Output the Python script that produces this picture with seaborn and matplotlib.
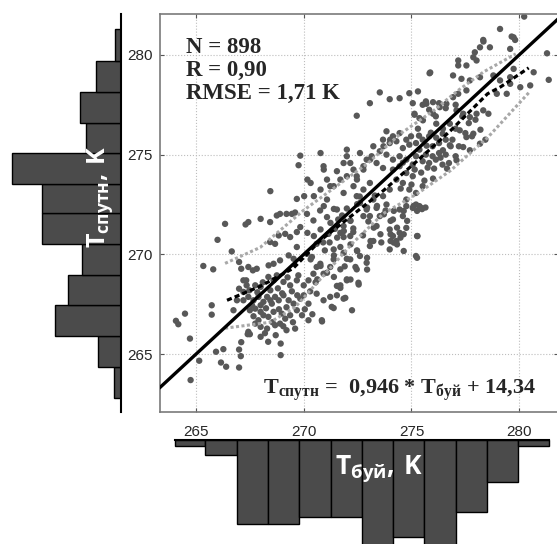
import numpy as np
import pandas as pd
import matplotlib
matplotlib.use("Agg")
import matplotlib.pyplot as plt
import seaborn as sns

# ---------------- data ----------------
sat_x = [
266.35,266.00,266.66,265.34,265.80,264.49,264.07,264.18,264.72,265.15,264.75,265.73,265.73,265.93,266.16,266.40,267.00,266.27,267.08,267.00,
267.10,267.40,267.50,268.00,268.35,268.93,268.93,267.30,267.43,268.00,268.44,268.75,268.90,269.20,269.45,269.60,268.44,268.67,268.84,269.14,
269.37,269.68,269.84,267.00,267.10,267.43,267.20,267.33,267.64,267.82,268.37,268.60,268.90,269.30,269.53,269.68,270.15,267.00,267.20,267.48,
267.75,268.00,268.36,268.60,268.75,269.06,269.37,269.68,270.00,270.22,270.45,270.60,270.92,271.23,271.40,271.70,272.00,267.20,267.43,267.67,
267.90,268.13,268.30,268.52,268.67,268.84,269.06,269.30,269.53,269.84,270.00,270.22,270.60,270.92,271.23,271.54,271.85,272.24,267.50,267.75,
268.00,268.13,268.36,268.60,268.98,269.14,269.37,269.68,269.92,270.22,270.84,271.30,267.75,268.00,268.30,268.67,268.90,269.20,269.60,267.43,
267.67,268.00,266.74,266.90,270.15,270.45,270.76,271.08,271.40,271.78,272.16,271.15,271.45,271.85,272.30,270.60,270.98,271.40,271.70,272.00,
272.40,272.47,270.38,270.77,
272.46,273.07,273.53,273.99,274.45,274.90,275.30,275.06,275.52,275.67,275.14,275.37,275.82,276.13,276.28,276.59,277.05,277.36,277.66,277.97,
277.50,277.81,278.20,278.43,277.20,277.05,273.84,274.14,274.45,273.68,273.99,274.30,274.60,274.76,274.98,275.21,275.52,275.82,275.98,276.28,
276.59,276.82,275.37,275.67,275.98,276.28,276.59,275.52,275.82,276.13,276.44,276.74,275.21,275.06,274.76,274.45,274.14,273.84,273.53,273.23,
273.15,273.38,273.68,274.14,274.45,274.76,275.06,274.30,274.60,274.90,275.21,275.52,275.37,275.06,274.76,273.99,273.68,273.84,272.00,272.00,
272.16,272.61,272.92,272.77,272.31,272.46,272.00,271.54,271.70,271.39,271.08,270.78,270.47,271.08,270.93,271.54,271.85,272.31,272.46,272.77,
273.07,272.61,272.92,273.07,272.77,273.23,273.38,273.53,273.38,273.99,274.14,274.45,274.30,274.76,275.28,274.60,274.14,274.76,274.45,275.21,
275.45,271.85,272.16,271.70,271.24,270.78,270.47,270.17,271.39,271.85,272.16,272.61,272.92,272.46,272.54,270.32,270.78,271.08,270.63,271.39,
271.70,272.00,271.54,273.99,275.21,273.07,273.23,270.78,270.93,270.32,270.02,270.17,
280.23,279.11,278.33,278.18,278.64,277.94,279.58,279.74,279.81,281.29,281.37,280.67,280.51,280.05,279.74,279.58,277.17,277.17,277.55,277.87,
278.02,275.84,276.93,277.32,277.71,278.18,278.80,279.11,275.69,276.00,276.31,276.62,275.14,275.53,276.00,276.93,277.17,277.55,277.09,277.40,
277.71,278.02,278.33,278.57,278.96,279.58,279.42,276.15,276.46,276.78,277.24,277.55,277.87,277.40,277.71,278.18,276.78,276.46,277.09,
275.87,269.84,269.76,268.45,269.68,279.65,278.34,270.92,271.85,272.77,273.08,273.70,274.01,271.23,272.47,
272.48,272.94,273.40,273.72,274.03,274.33,274.64,274.03,275.10,275.26,275.49,275.65,274.64,274.18,274.80,274.03,274.18,274.49,274.33,275.26,
275.26,274.64,272.48,272.94,272.94,272.55,272.17,271.70,271.93,271.39,270.85,273.56,273.25,273.10,272.17,271.86,271.55,272.17,
267.35,267.60,267.85,268.10,268.25,268.45,268.55,268.80,268.85,269.00,269.20,269.25,269.45,269.50,269.70,269.75,270.05,270.30,270.40,270.55,
267.90,268.20,268.70,269.05,268.45,
274.60,274.90,275.15,275.35,275.45,275.70,275.75,275.90,276.05,276.15,276.35,276.45,276.65,276.90,277.05,275.00,275.60,276.00,274.50,275.30,
271.60,272.00,272.30,272.60,272.75,273.00,273.30,273.60,271.20,271.90,270.90,273.80,
]
sat_y = [
271.53,270.73,270.15,269.42,269.25,267.03,266.67,266.50,265.78,264.67,263.70,267.45,266.98,265.12,264.58,264.37,264.33,265.25,264.90,265.23,
265.60,266.00,266.00,265.87,265.62,265.53,264.95,271.50,271.62,271.78,271.62,271.95,272.03,272.03,272.03,272.10,270.62,270.53,270.95,271.03,
270.87,271.12,271.37,269.62,269.28,269.37,268.70,268.70,269.20,269.28,269.45,269.53,269.70,269.95,269.78,270.37,270.03,268.28,268.12,268.20,
268.45,268.37,268.87,268.70,268.95,268.62,268.45,268.70,268.45,268.70,269.03,269.37,269.03,269.37,268.87,268.45,268.70,267.70,267.87,267.70,
267.87,267.62,267.87,267.53,267.87,267.70,267.95,267.70,267.53,267.78,267.95,267.53,268.03,267.70,267.87,267.95,267.78,267.20,267.20,267.28,
267.12,266.95,266.87,267.12,267.03,266.78,266.95,267.20,266.95,266.70,266.70,267.37,266.53,266.37,266.28,266.45,266.53,266.20,266.28,266.12,
266.90,267.45,267.20,267.70,272.03,271.70,272.20,271.87,272.28,271.95,271.70,271.03,271.28,270.87,271.12,270.53,270.20,269.95,270.37,269.78,
269.37,270.20,269.87,269.53,
276.95,277.58,278.12,277.78,277.83,278.08,278.17,277.58,277.50,277.67,277.00,276.83,277.25,276.92,277.58,277.33,277.50,276.92,276.58,276.75,
276.08,275.92,276.25,275.75,275.42,274.92,276.17,275.92,276.08,275.75,275.58,275.67,275.33,275.75,275.92,275.58,275.75,275.92,275.42,275.58,
275.75,275.42,275.25,275.00,274.92,275.08,275.00,274.67,274.58,274.75,274.50,274.58,274.92,274.50,274.75,274.92,274.75,275.00,275.17,275.42,
274.92,274.58,274.33,274.25,274.42,274.08,273.92,273.75,273.58,273.25,273.08,273.42,272.42,272.33,272.75,273.25,272.92,272.50,275.25,274.92,
274.58,275.08,274.75,274.25,274.25,273.92,273.92,274.17,273.75,273.42,273.75,273.25,272.92,272.75,272.42,272.25,273.08,273.42,272.92,273.25,
273.58,272.58,272.25,271.92,271.92,272.75,272.33,271.92,271.42,271.25,270.92,271.08,270.67,271.33,270.92,271.92,271.75,272.42,272.25,272.50,
272.33,271.42,270.92,271.08,271.58,271.25,270.92,271.08,270.25,270.08,269.75,269.92,269.58,269.25,268.58,269.75,269.42,269.08,268.75,269.75,
269.25,268.75,268.42,270.25,269.92,270.42,270.67,275.08,274.25,273.58,272.92,273.75,
281.92,281.30,280.75,280.38,280.38,280.13,280.30,280.88,280.75,280.08,278.75,279.13,278.47,278.38,279.30,278.88,279.72,279.47,279.47,279.88,
279.72,279.08,278.97,278.80,278.72,278.88,278.97,278.72,277.55,277.63,277.38,277.55,277.05,276.72,277.05,277.88,278.05,278.22,277.22,277.05,
276.88,277.05,277.22,277.05,278.05,278.55,278.05,276.55,276.30,276.55,276.22,275.88,276.05,275.38,275.22,275.55,275.47,275.22,274.72,
279.12,274.95,274.47,273.17,272.78,280.92,280.67,274.42,274.58,274.42,274.75,275.42,275.75,273.42,273.75,
272.52,272.35,272.43,272.01,271.68,271.34,271.01,271.01,272.43,272.18,272.27,272.35,272.18,272.18,271.68,270.67,270.59,270.84,270.50,270.92,
269.83,270.17,270.17,269.83,269.24,268.49,268.74,268.32,267.82,267.31,266.64,271.01,271.34,270.67,271.68,271.17,270.84,270.50,
268.45,267.45,268.10,268.60,267.30,268.20,266.60,268.30,267.25,268.05,267.35,268.85,268.15,266.60,267.95,268.95,267.25,268.15,267.00,268.60,
266.70,266.05,265.95,266.40,267.70,
274.60,275.50,274.25,275.95,274.10,275.45,274.35,276.10,274.30,275.85,274.85,276.05,274.30,275.75,276.30,273.50,273.70,273.80,273.30,276.30,
271.75,272.30,271.30,272.90,270.95,271.65,272.95,270.60,270.60,269.40,270.60,272.20,
]

# binned-mean regression curve (dashed) and the two envelope curves (dotted)
fit_x = [266.44, 267.98, 269.51, 270.77, 273.70, 275.28, 276.81, 278.53, 279.14, 280.44]
fit_y = [267.70, 268.40, 269.30, 270.70, 273.20, 274.70, 276.20, 278.05, 278.40, 279.35]
up_x = [266.35, 267.98, 269.98, 272.95, 274.49, 276.02, 277.14, 278.35, 279.84]
up_y = [269.55, 270.35, 272.20, 274.55, 276.05, 277.20, 278.20, 279.15, 280.05]
lo_x = [266.35, 268.44, 269.60, 272.30, 273.70, 275.28, 276.81, 278.53, 280.44]
lo_y = [266.30, 266.60, 267.35, 270.60, 272.05, 273.05, 274.20, 275.85, 278.10]
one_to_one = [263.3, 281.8]

# marginal histograms
buoy_edges = [264.02, 265.42, 266.91, 268.35, 269.79, 271.28, 272.72, 274.16, 275.60, 277.05, 278.49, 279.93, 281.37]
buoy_counts = [7, 17, 94, 94, 86, 86, 135, 109, 135, 81, 47, 7]
sat_edges = [262.80, 264.35, 265.90, 267.45, 268.95, 270.50, 272.05, 273.55, 275.10, 276.60, 278.15, 279.70, 281.30]
sat_counts = [11, 37, 105, 85, 62, 126, 126, 174, 56, 66, 40, 10]

ticks = [265, 270, 275, 280]
stats_text = "N = 898\nR = 0,90\nRMSE = 1,71 K"

# ---------------- styling ----------------
sns.set_style("white")
plt.rcParams['font.family'] = ['Liberation Sans', 'DejaVu Sans']
plt.rcParams['mathtext.fontset'] = 'custom'
plt.rcParams['mathtext.rm'] = 'Liberation Serif'
plt.rcParams['mathtext.bf'] = 'Liberation Serif:bold'
plt.rcParams['mathtext.sf'] = 'Open Sans:bold'

W, H = 557, 544
fig = plt.figure(figsize=(W / 100, H / 100), dpi=100)

def rect(l, t, r, b):
    return [l / W, 1 - b / H, (r - l) / W, (b - t) / H]

ax = fig.add_axes(rect(160, 14, 558, 412))
axl = fig.add_axes(rect(0, 14, 121, 412))
axb = fig.add_axes(rect(160, 440, 558, 544))

XL = (263.33, 281.8)
YL = (262.1, 282.05)

# ---------------- main scatter ----------------
df = pd.DataFrame({"buoy": sat_x, "sat": sat_y})
sns.scatterplot(data=df, x="buoy", y="sat", ax=ax, color="#585858", s=21,
                edgecolor="none", linewidth=0, zorder=2)
sns.lineplot(x=up_x, y=up_y, ax=ax, color="#a8a8a8", lw=2.2, linestyle=(0, (1, 0.8)),
             sort=False, estimator=None, zorder=3)
sns.lineplot(x=lo_x, y=lo_y, ax=ax, color="#a8a8a8", lw=2.2, linestyle=(0, (1, 0.8)),
             sort=False, estimator=None, zorder=3)
sns.lineplot(x=one_to_one, y=one_to_one, ax=ax, color="black", lw=2.4,
             sort=False, estimator=None, zorder=4)
sns.lineplot(x=fit_x, y=fit_y, ax=ax, color="black", lw=2.3, linestyle=(0, (1.6, 1.0)),
             sort=False, estimator=None, zorder=4)

ax.set_xlim(*XL)
ax.set_ylim(*YL)
ax.set_xticks(ticks)
ax.set_yticks(ticks)
ax.grid(True, color="#bdbdbd", lw=0.8, linestyle=":")
ax.set_axisbelow(True)
ax.tick_params(axis="both", direction="in", length=3, width=0.8, color="#555555",
               labelsize=11, top=True, right=True, bottom=True, left=True)
ax.tick_params(axis="x", pad=9)
ax.tick_params(axis="y", pad=5)
for s in ax.spines.values():
    s.set_color("#7a7a7a")
    s.set_linewidth(1.2)
ax.set_xlabel("")
ax.set_ylabel("")

ax.text(0.065, 0.943, stats_text, transform=ax.transAxes, ha="left", va="top",
        fontfamily="Liberation Serif", fontweight="bold", fontsize=16.5, linespacing=1.12)
ax.text(0.603, 0.043,
        r"$\mathbf{T}_{\mathbf{спутн}}$ =  0,946 * $\mathbf{T}_{\mathbf{буй}}$ + 14,34",
        transform=ax.transAxes, ha="center", va="baseline",
        fontfamily="Liberation Serif", fontweight="bold", fontsize=16)

# ---------------- left histogram (satellite) ----------------
sat_centers = [(a + b) / 2 for a, b in zip(sat_edges[:-1], sat_edges[1:])]
sns.histplot(y=sat_centers, weights=sat_counts, bins=sat_edges, ax=axl,
             color="#4b4b4b", edgecolor="black", linewidth=1.0, alpha=1)
axl.set_ylim(*YL)
axl.set_xlim(193, 0)
for k, s in axl.spines.items():
    s.set_visible(k == "right")
axl.spines["right"].set_color("black")
axl.spines["right"].set_linewidth(1.5)
axl.set_xticks([])
axl.set_yticks([])
axl.set_xlabel("")
axl.set_ylabel("")
axl.patch.set_alpha(0)
axl.text(0.83, 0.54, r"$\mathsf{T}_{\mathsf{спутн}}\mathsf{,\,K}$", transform=axl.transAxes,
         rotation=90, ha="center", va="center", color="white", fontsize=18)

# ---------------- bottom histogram (buoy) ----------------
buoy_centers = [(a + b) / 2 for a, b in zip(buoy_edges[:-1], buoy_edges[1:])]
sns.histplot(x=buoy_centers, weights=buoy_counts, bins=buoy_edges, ax=axb,
             color="#4b4b4b", edgecolor="black", linewidth=1.0, alpha=1)
axb.set_xlim(*XL)
axb.set_ylim(116.7, 0)
for k, s in axb.spines.items():
    s.set_visible(k == "top")
axb.spines["top"].set_color("black")
axb.spines["top"].set_linewidth(1.5)
axb.spines["top"].set_bounds(buoy_edges[0], buoy_edges[-1])
axb.set_xticks([])
axb.set_yticks([])
axb.set_xlabel("")
axb.set_ylabel("")
axb.patch.set_alpha(0)
axb.text(0.55, 0.72, r"$\mathsf{T}_{\mathsf{буй}}\mathsf{,\,K}$", transform=axb.transAxes,
         ha="center", va="center", color="white", fontsize=19)

fig.savefig("out.png", dpi=100)
